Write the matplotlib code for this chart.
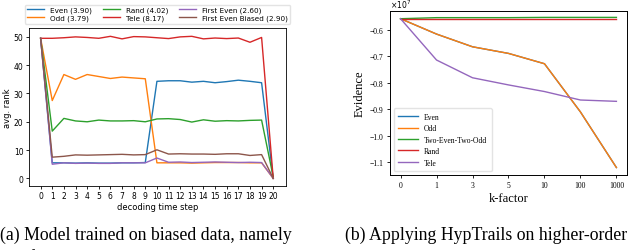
import matplotlib
matplotlib.use("Agg")
import matplotlib.pyplot as plt

# ---- left chart data ----
steps = list(range(21))
even = [49.5, 5.5, 5.5, 5.4, 5.5, 5.4, 5.4, 5.5, 5.5, 5.6, 34.3, 34.5, 34.5, 34.0, 34.3, 33.8, 34.2, 34.7, 34.3, 33.8, 0.0]
odd = [49.5, 27.5, 36.7, 35.0, 36.7, 36.0, 35.3, 35.8, 35.5, 35.2, 5.5, 5.5, 5.5, 5.4, 5.5, 5.6, 5.6, 5.6, 5.5, 5.5, 0.0]
rand = [49.5, 16.7, 21.2, 20.3, 20.0, 20.6, 20.3, 20.3, 20.4, 20.0, 21.0, 21.1, 20.8, 19.9, 20.7, 20.2, 20.4, 20.3, 20.5, 20.6, 0.5]
tele = [49.5, 49.5, 49.7, 50.0, 49.8, 49.5, 50.2, 49.3, 50.1, 50.0, 49.7, 49.4, 50.0, 50.2, 49.3, 49.6, 49.4, 49.6, 48.1, 49.8, 0.0]
first_even = [49.5, 5.0, 5.5, 5.3, 5.4, 5.3, 5.3, 5.5, 5.5, 5.5, 7.2, 5.7, 5.8, 5.6, 5.7, 5.8, 5.7, 5.6, 5.7, 5.6, 0.0]
first_even_biased = [49.5, 7.5, 7.8, 8.3, 8.2, 8.3, 8.4, 8.5, 8.3, 8.4, 10.1, 8.6, 8.7, 8.6, 8.6, 8.5, 8.7, 8.7, 8.1, 8.4, 0.0]
left_labels = ["Even (3.90)", "Odd (3.79)", "Rand (4.02)", "Tele (8.17)", "First Even (2.60)", "First Even Biased (2.90)"]

# ---- right chart data (evidence, x 1e7) ----
k_labels = ["0", "1", "3", "5", "10", "100", "1000"]
ev_even = [-0.558, -0.616, -0.664, -0.689, -0.728, -0.910, -1.120]
ev_odd = [-0.558, -0.616, -0.664, -0.689, -0.728, -0.910, -1.120]
ev_two = [-0.558, -0.554, -0.554, -0.554, -0.553, -0.553, -0.553]
ev_rand = [-0.558, -0.558, -0.558, -0.558, -0.558, -0.558, -0.558]
ev_tele = [-0.558, -0.714, -0.781, -0.808, -0.833, -0.865, -0.870]
right_labels = ["Even", "Odd", "Two-Even-Two-Odd", "Rand", "Tele"]

colors = ["#1f77b4", "#ff7f0e", "#2ca02c", "#d62728", "#9467bd", "#8c564b"]

fig = plt.figure(figsize=(6.4, 2.51), dpi=100)

# left
ax1 = fig.add_axes([0.0453, 0.256, 0.4016, 0.628])
for s, lab, c in zip([even, odd, rand, tele, first_even, first_even_biased], left_labels, colors):
    ax1.plot(steps, s, color=c, lw=1.0, label=lab)
ax1.set_xlim(-1.0, 21.1)
ax1.set_ylim(-2.6, 53.1)
ax1.set_xticks(steps)
ax1.set_yticks([0, 10, 20, 30, 40, 50])
ax1.tick_params(labelsize=5.5, length=2.5, width=0.6, pad=1.5)
ax1.set_xlabel("decoding time step", fontsize=6, labelpad=1)
ax1.set_ylabel("avg. rank", fontsize=6, labelpad=1)
for sp in ax1.spines.values():
    sp.set_linewidth(0.6)
fig.legend(*ax1.get_legend_handles_labels(), loc="upper center",
           bbox_to_anchor=((39 + 276) / 2 / 640, 1 - 2 / 251), ncol=3, fontsize=5.2,
           frameon=True, handlelength=2.4, columnspacing=1.5, borderpad=0.3,
           labelspacing=0.2, handletextpad=0.8, fancybox=True, edgecolor="#dddddd")

# right
serif = "Liberation Serif"
ax2 = fig.add_axes([0.609, 0.299, 0.371, 0.652])
xs = list(range(len(k_labels)))
for s, lab, c in zip([ev_even, ev_odd, ev_two, ev_rand, ev_tele], right_labels, colors):
    ax2.plot(xs, s, color=c, lw=1.0, label=lab)
ax2.set_xlim(-0.3, 6.3)
ax2.set_ylim(-1.148, -0.53)
ax2.set_xticks(xs)
ax2.set_xticklabels(k_labels, fontfamily=serif)
ax2.set_yticks([-0.6, -0.7, -0.8, -0.9, -1.0, -1.1])
ax2.set_yticklabels(["\u22120.6", "\u22120.7", "\u22120.8", "\u22120.9", "\u22121.0", "\u22121.1"], fontfamily=serif)
ax2.tick_params(labelsize=5.5, length=2.5, width=0.6, pad=2)
ax2.set_xlabel("k-factor", fontsize=9, fontfamily=serif, labelpad=2)
ax2.set_ylabel("Evidence", fontsize=9, fontfamily=serif, labelpad=3)
ax2.text(0.0, 1.005, r"$\times10^7$", transform=ax2.transAxes, fontsize=5.5, ha="left", va="bottom")
for sp in ax2.spines.values():
    sp.set_linewidth(0.7)
ax2.legend(loc="lower left", prop={"family": serif, "size": 5.5}, frameon=True,
           handlelength=2.6, labelspacing=0.45, borderpad=0.6, fancybox=True, edgecolor="#dddddd")

# captions
fig.text(0.0, 1 - 235 / 251, "(a) Model trained on biased data, namely", fontsize=12.8, fontfamily=serif, va="center", ha="left")
fig.text(345 / 640, 1 - 235 / 251, "(b) Applying HypTrails on higher-order", fontsize=12.8, fontfamily=serif, va="center", ha="left")
fig.text(0.045, -0.03, "first/last and biased", fontsize=12.8, fontfamily=serif, va="center", ha="left")

fig.savefig("out.png", dpi=100)
